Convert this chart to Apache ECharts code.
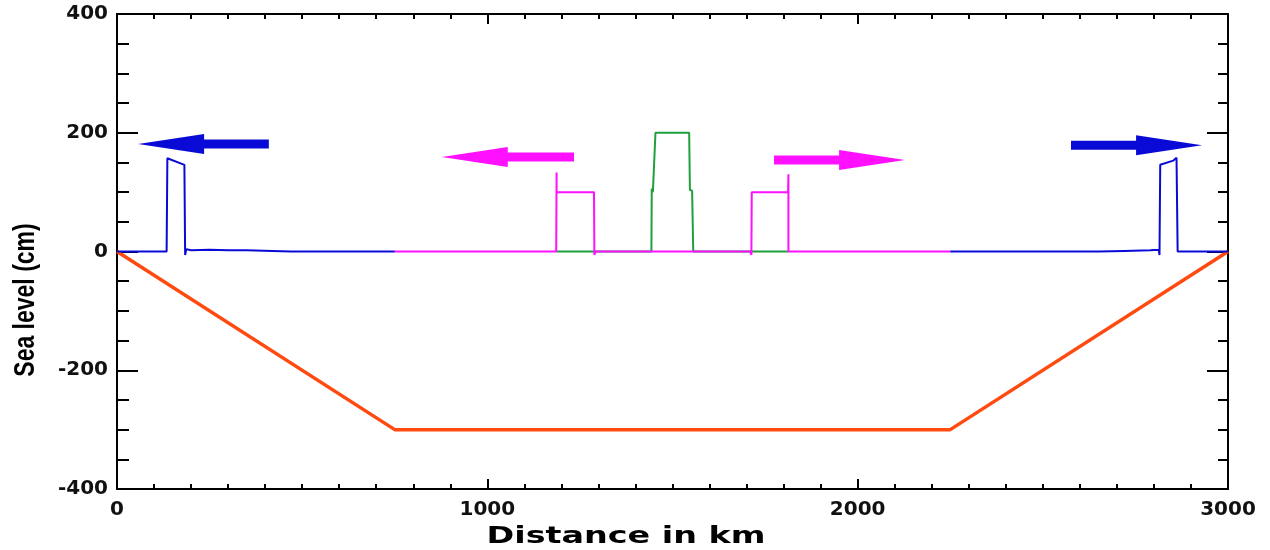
<!DOCTYPE html>
<html>
<head>
<meta charset="utf-8">
<script src="https://cdn.jsdelivr.net/npm/echarts@6/dist/echarts.min.js"></script>
<style>
html,body{margin:0;padding:0;background:#fff;}
#chart{width:1270px;height:550px;}
</style>
</head>
<body>
<div id="chart"></div>
<script>
// ---- data (distance km, sea level cm) ----
var xTicks = [0, 1000, 2000, 3000];
var yTicks = [-400, -200, 0, 200, 400];

var bathymetry = [[0, 0], [750, -300], [2250, -300], [3000, 0]];

var blueLeft = [[0, 0], [134, 0], [136, 157], [182, 146], [184, -6], [187, 4], [200, 2],
  [250, 3], [300, 2], [350, 2], [420, 1], [470, 0], [750, 0]];
var blueRight = [[2250, 0], [2650, 0], [2720, 1], [2790, 2], [2813, 3], [2815, -6], [2817, 146],
  [2852, 153], [2861, 158], [2864, 0], [3000, 0]];

var magenta = [[750, 0], [1186, 0], [1187, 133], [1187, 100], [1288, 100], [1289, -6], [1292, 0],
  [1710, 0], [1713, -6], [1714, 100], [1812, 100], [1813, 130], [1813, 0], [2250, 0]];

var green = [[1187, 0], [1443, 0], [1444, 106], [1447, 100], [1452, 98], [1454, 200],
  [1545, 200], [1547, 104], [1553, 102], [1556, 0], [1813, 0]];

// arrows: [tail km, tip km, level cm]
var blueArrows = [[410, 57, 181], [2576, 2930, 179]];
var magentaArrows = [[1234, 877, 159], [1774, 2128, 154]];

var BLUE = '#0a0ad6', MAG = '#ff10ff', GREEN = '#1ea03c', ORANGE = '#ff4a10';

function arrowRender(color) {
  return function (params, api) {
    var tail = api.coord([api.value(0), api.value(2)]);
    var tip = api.coord([api.value(1), api.value(2)]);
    var dir = tip[0] > tail[0] ? 1 : -1;
    var headLen = 66, shaft = 4.5, head = 10;
    var base = tip[0] - dir * headLen;
    var y = tail[1];
    return {
      type: 'polygon',
      shape: { points: [
        [tail[0], y - shaft], [base, y - shaft], [base, y - head], [tip[0], y],
        [base, y + head], [base, y + shaft], [tail[0], y + shaft]
      ] },
      style: { fill: color }
    };
  };
}

function plain(v) { return String(v); }
var axisLine = { show: true, onZero: false, lineStyle: { color: '#000', width: 2 } };

var chart = echarts.init(document.getElementById('chart'), null, { renderer: 'canvas' });
chart.setOption({
  animation: false,
  backgroundColor: '#fff',
  grid: { left: 117, right: 42, top: 14, bottom: 61, containLabel: false },
  xAxis: [{
    type: 'value', min: xTicks[0], max: xTicks[xTicks.length - 1], interval: 1000,
    position: 'bottom',
    axisLine: axisLine,
    axisTick: { show: true, inside: true, length: 10, lineStyle: { color: '#000', width: 2 } },
    minorTick: { show: true, splitNumber: 10, length: 5, lineStyle: { color: '#000', width: 2 } },
    splitLine: { show: false },
    axisLabel: { margin: 11, formatter: plain, fontFamily: 'DejaVu Sans', fontWeight: 'bold', fontSize: 20, color: '#111' }
  }, {
    type: 'value', min: xTicks[0], max: xTicks[xTicks.length - 1], interval: 1000,
    position: 'top',
    axisLine: axisLine,
    axisTick: { show: true, inside: true, length: 10, lineStyle: { color: '#000', width: 2 } },
    minorTick: { show: true, splitNumber: 10, length: 5, lineStyle: { color: '#000', width: 2 } },
    splitLine: { show: false },
    axisLabel: { show: false }
  }],
  yAxis: [{
    type: 'value', min: yTicks[0], max: yTicks[yTicks.length - 1], interval: 200,
    position: 'left',
    axisLine: axisLine,
    axisTick: { show: true, inside: true, length: 21, lineStyle: { color: '#000', width: 2 } },
    minorTick: { show: true, splitNumber: 4, length: 12, lineStyle: { color: '#000', width: 2 } },
    splitLine: { show: false },
    axisLabel: { margin: 9, formatter: plain, fontFamily: 'DejaVu Sans', fontWeight: 'bold', fontSize: 20, color: '#111' }
  }, {
    type: 'value', min: yTicks[0], max: yTicks[yTicks.length - 1], interval: 200,
    position: 'right',
    axisLine: axisLine,
    axisTick: { show: true, inside: true, length: 21, lineStyle: { color: '#000', width: 2 } },
    minorTick: { show: true, splitNumber: 4, length: 10, lineStyle: { color: '#000', width: 2 } },
    splitLine: { show: false },
    axisLabel: { show: false }
  }],
  graphic: [{
    type: 'text', x: 626, y: 537, scaleX: 1.45, z: 10,
    style: { text: 'Distance in km', fontFamily: 'DejaVu Sans', fontWeight: 'bold', fontSize: 23,
      fill: '#000', textAlign: 'center', textVerticalAlign: 'middle' }
  }, {
    type: 'text', x: 26, y: 300, rotation: Math.PI / 2, scaleY: 1.3, z: 10,
    style: { text: 'Sea level (cm)', fontFamily: 'Liberation Sans', fontWeight: 'bold', fontSize: 23,
      fill: '#000', textAlign: 'center', textVerticalAlign: 'middle' }
  }],
  series: [
    { type: 'line', data: bathymetry, symbol: 'none', lineStyle: { color: ORANGE, width: 3.5 }, z: 2 },
    { type: 'line', data: green, symbol: 'none', lineStyle: { color: GREEN, width: 2 }, z: 3 },
    { type: 'line', data: magenta, symbol: 'none', lineStyle: { color: MAG, width: 2 }, z: 4 },
    { type: 'line', data: blueLeft, symbol: 'none', lineStyle: { color: BLUE, width: 2 }, z: 5 },
    { type: 'line', data: blueRight, symbol: 'none', lineStyle: { color: BLUE, width: 2 }, z: 5 },
    { type: 'custom', data: blueArrows, renderItem: arrowRender(BLUE), z: 6 },
    { type: 'custom', data: magentaArrows, renderItem: arrowRender(MAG), z: 6 }
  ]
});
</script>
</body>
</html>
